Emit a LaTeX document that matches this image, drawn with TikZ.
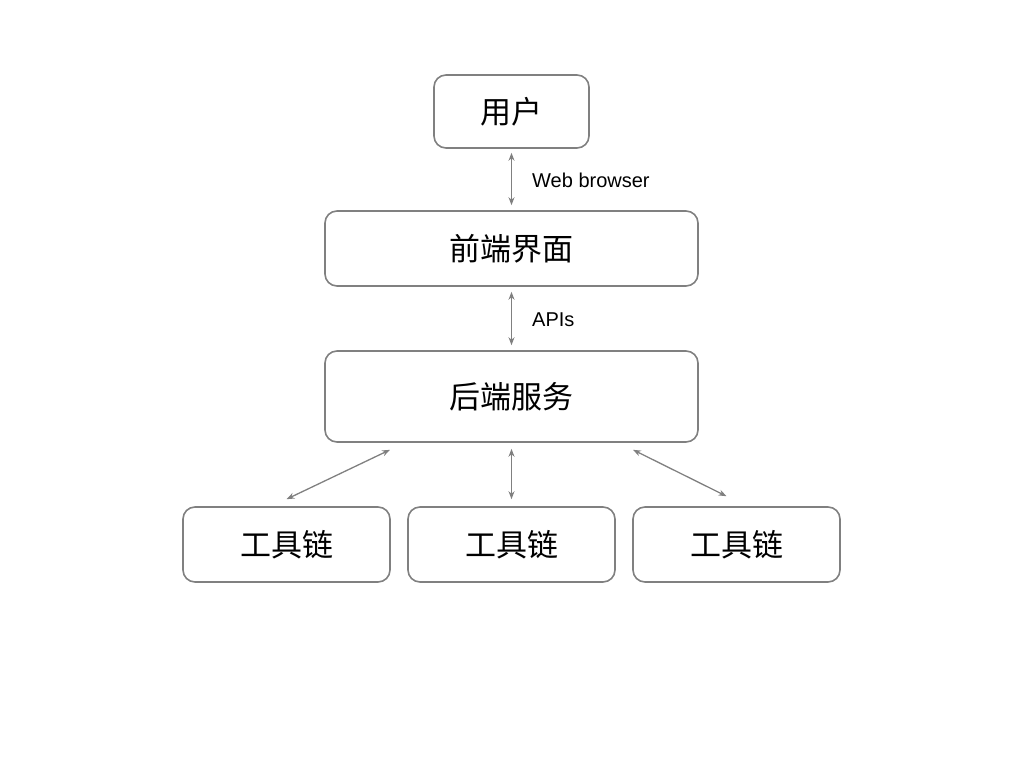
\documentclass[tikz,border=0pt]{standalone}
\usepackage{fontspec}
\setmainfont{Liberation Sans}
\newfontfamily\cjk{Noto Sans CJK SC}
\usetikzlibrary{arrows.meta}
\begin{document}
\begin{tikzpicture}[x=1pt,y=-1pt,
  box/.style={draw=black!50,line width=1.6pt,rounded corners=12pt,font=\cjk\fontsize{31}{31}\selectfont,inner sep=0pt},
  arr/.style={draw=black!50,line width=1.3pt,{Stealth[length=8pt,width=6pt]}-{Stealth[length=8pt,width=6pt]}},
  lbl/.style={anchor=west,font=\fontsize{20}{20}\selectfont,inner sep=0pt}]
\useasboundingbox (0,0) rectangle (1024,768);
\node[box,minimum width=155pt,minimum height=73pt] (u) at (511.5,111.5) {用户};
\node[box,minimum width=373pt,minimum height=75pt] (f) at (511.5,248.5) {前端界面};
\node[box,minimum width=373pt,minimum height=91pt] (b) at (511.5,396.5) {后端服务};
\node[box,minimum width=207pt,minimum height=75pt] (t1) at (286.5,544.5) {工具链};
\node[box,minimum width=207pt,minimum height=75pt] (t2) at (511.5,544.5) {工具链};
\node[box,minimum width=207pt,minimum height=75pt] (t3) at (736.5,544.5) {工具链};
\draw[arr,shorten <=4pt,shorten >=5pt] (u) -- (f);
\draw[arr,shorten <=5pt,shorten >=5pt] (f) -- (b);
\draw[arr,shorten <=6pt,shorten >=7pt] (b) -- (t2);
\draw[arr] ([shift={(-121.5,7)}]b.south) -- ([shift={(0,-7)}]t1.north);
\draw[arr] ([shift={(121.5,7)}]b.south) -- ([shift={(-10,-10)}]t3.north);
\node[lbl] (wb) at (532,180) {Web browser};
\node[lbl] (api) at (532,320) {APIs};
\end{tikzpicture}
\end{document}
